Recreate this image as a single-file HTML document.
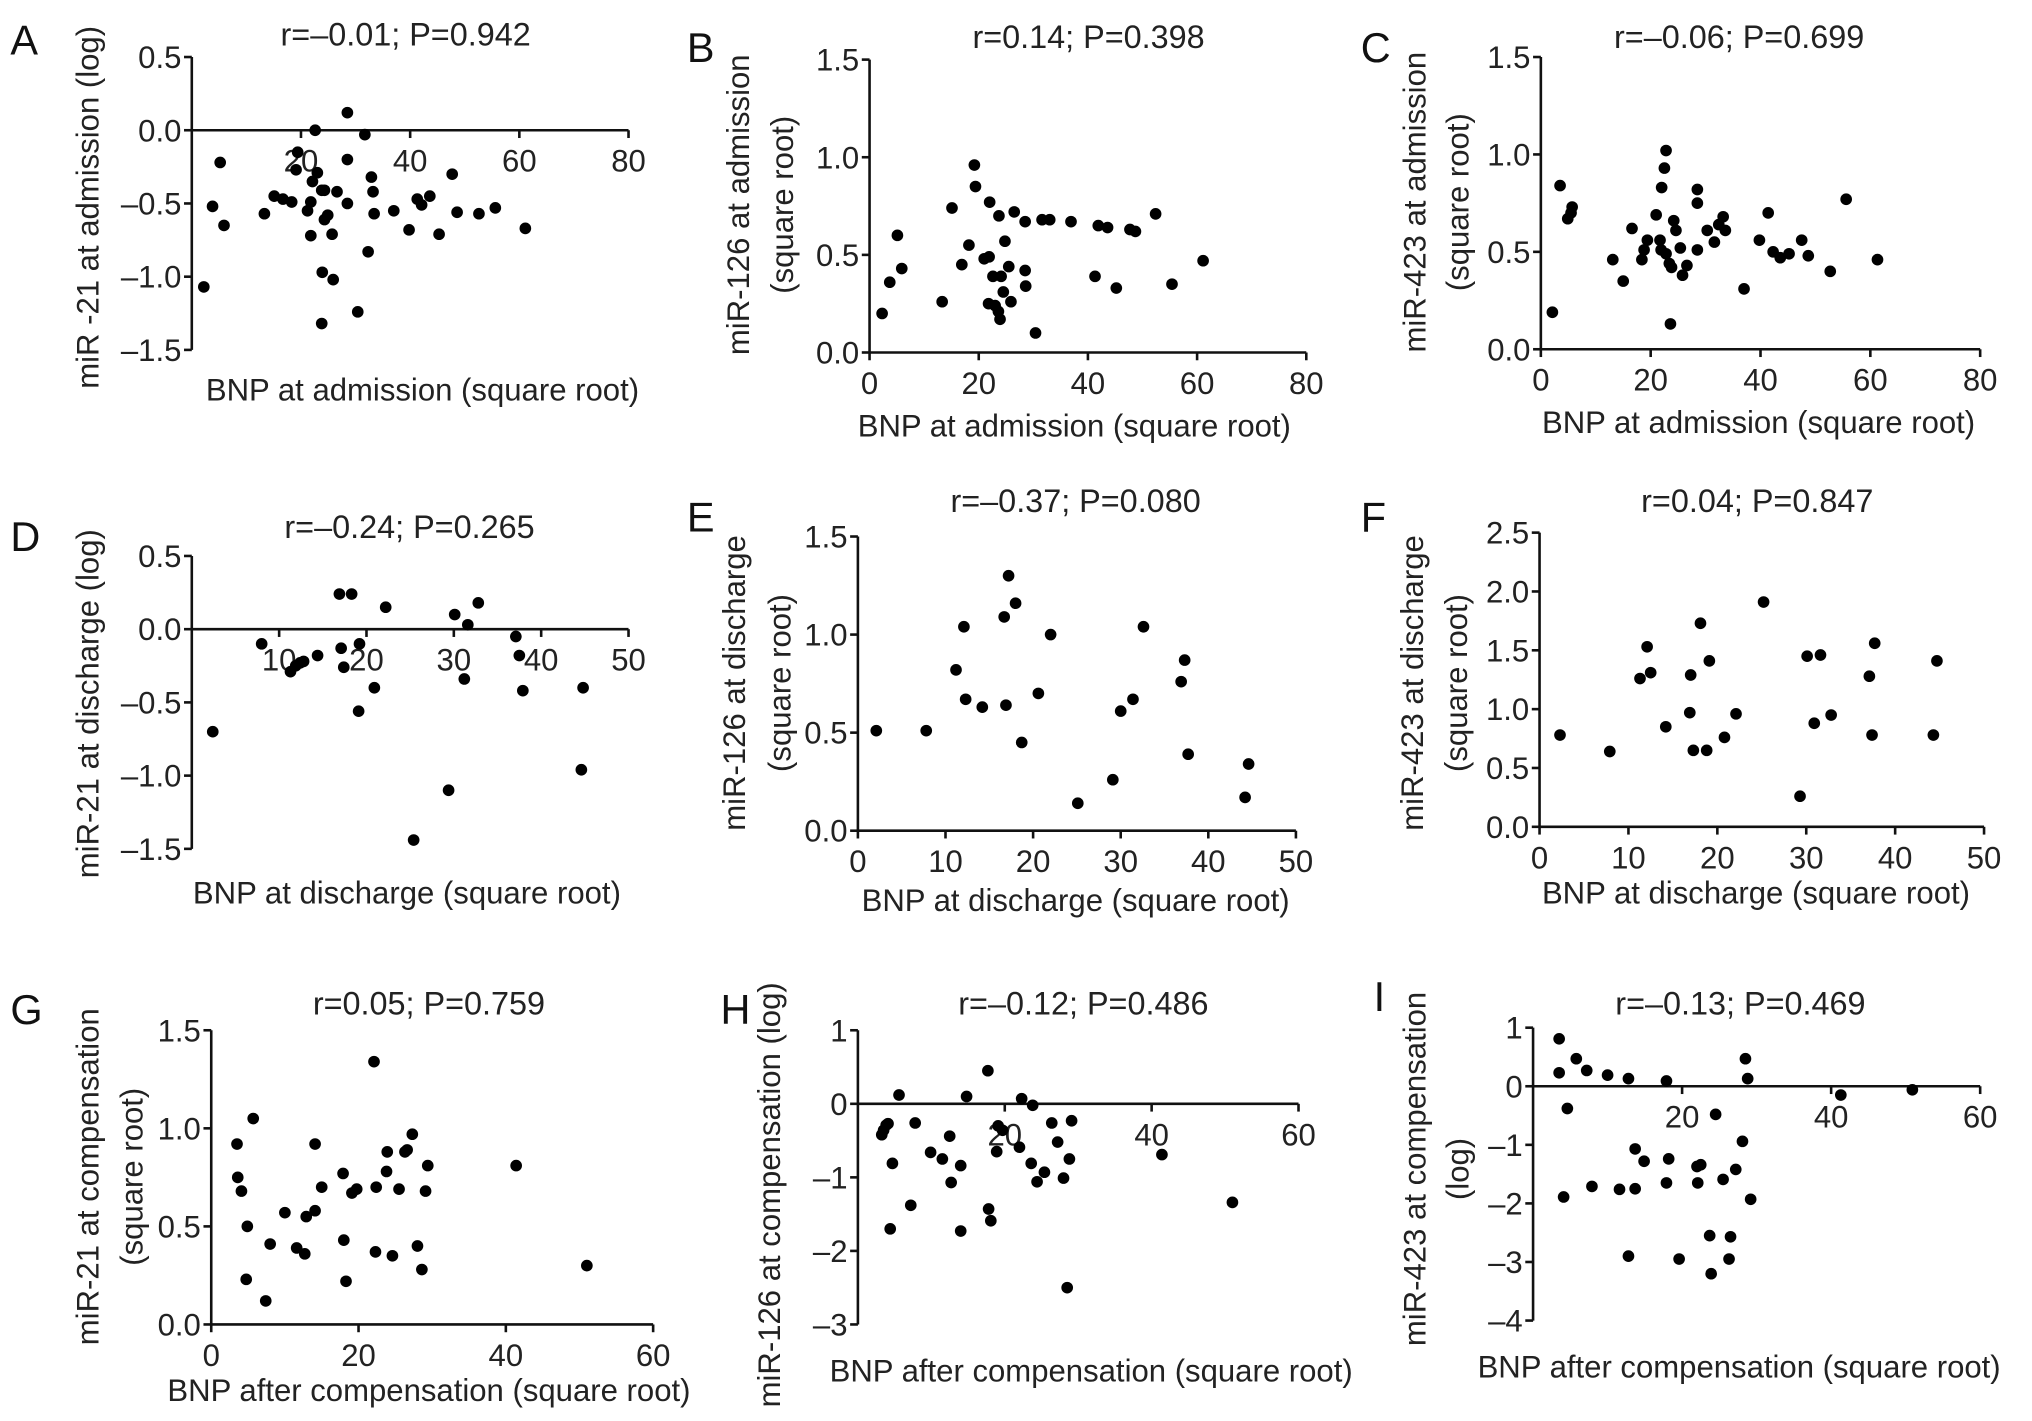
<!DOCTYPE html>
<html><head><meta charset="utf-8"><title>BNP vs miR correlations</title>
<style>
html,body{margin:0;padding:0;background:#fff;}
svg{display:block;font-family:"Liberation Sans",Arial,sans-serif;}
</style></head>
<body>
<svg id="fig" width="2032" height="1421" viewBox="0 0 1568 1096.5" preserveAspectRatio="none" xmlns="http://www.w3.org/2000/svg">
<rect width="1568" height="1096.5" fill="#fff"/>
</svg>
<script>
// ---- data (x = BNP sqrt, y = miR value) ----
const aX=[2.2,3.8,5.2,5.9,13.3,15.1,16.7,18.3,19.1,19.4,21.2,21.8,21.8,22.1,22.6,23,23.8,23.9,23.8,24.3,24.3,24.9,25.7,25.9,26.6,28.5,28.5,28.5,30.4,31.7,32.3,32.9,33.2,33.4,37,39.8,41.3,42.1,43.6,45.3,47.7,48.6,52.6,55.6,61.1];
const aY=[-1.07,-0.52,-0.22,-0.65,-0.57,-0.45,-0.47,-0.49,-0.27,-0.15,-0.55,-0.49,-0.72,-0.35,0,-0.29,-0.41,-0.97,-1.32,-0.41,-0.61,-0.58,-0.71,-1.02,-0.42,0.12,-0.2,-0.5,-1.24,-0.03,-0.83,-0.32,-0.42,-0.57,-0.55,-0.68,-0.47,-0.51,-0.45,-0.71,-0.3,-0.56,-0.57,-0.53,-0.67];
const bX=[2.3,3.7,5.1,5.9,13.3,15.1,16.9,18.2,19.2,19.4,21,21.9,22,21.8,22.6,23,23.6,23.7,23.9,24.1,24.5,24.8,25.5,25.9,26.5,28.5,28.5,28.6,30.4,31.6,33,36.9,41.3,41.9,43.6,45.2,47.7,48.7,52.4,55.4,61.1];
const bY=[0.20,0.36,0.60,0.43,0.26,0.74,0.45,0.55,0.96,0.85,0.48,0.49,0.77,0.25,0.39,0.24,0.21,0.70,0.17,0.39,0.31,0.57,0.44,0.26,0.72,0.67,0.42,0.34,0.10,0.68,0.68,0.67,0.39,0.65,0.64,0.33,0.63,0.62,0.71,0.35,0.47];
const cX=[2.1,3.5,4.9,5.7,5.5,13.1,15,16.6,18.4,18.8,19.4,21,21.7,22,21.9,22.5,22.8,22.8,23.6,23.4,23.8,24.2,24.6,25.4,25.8,26.6,28.5,28.5,28.5,30.3,31.6,32.4,33.2,33.6,37,39.8,41.4,42.3,43.6,45.2,47.5,48.7,52.7,55.6,61.3];
const cY=[0.19,0.84,0.67,0.73,0.70,0.46,0.35,0.62,0.46,0.51,0.56,0.69,0.56,0.83,0.51,0.93,1.02,0.49,0.13,0.44,0.42,0.66,0.61,0.52,0.38,0.43,0.51,0.82,0.75,0.61,0.55,0.64,0.68,0.61,0.31,0.56,0.70,0.50,0.47,0.49,0.56,0.48,0.40,0.77,0.46];
const dX=[2.4,8.0,11.3,11.9,12.4,12.8,14.4,16.9,17.1,17.4,18.3,19.1,19.2,20.9,22.2,25.4,29.4,30.1,31.2,31.6,32.8,37.1,37.5,37.9,44.6,44.8];
const dY=[-0.70,-0.10,-0.29,-0.25,-0.23,-0.22,-0.18,0.24,-0.13,-0.26,0.24,-0.56,-0.10,-0.40,0.15,-1.44,-1.10,0.10,-0.34,0.03,0.18,-0.05,-0.18,-0.42,-0.96,-0.40];
const eX=[2.1,7.8,11.2,12.1,12.3,14.2,16.7,16.9,17.2,18.0,18.7,20.6,22.0,25.1,29.1,30.0,31.4,32.6,36.9,37.3,37.7,44.2,44.6];
const eY=[0.51,0.51,0.82,1.04,0.67,0.63,1.09,0.64,1.30,1.16,0.45,0.70,1.00,0.14,0.26,0.61,0.67,1.04,0.76,0.87,0.39,0.17,0.34];
const fX=[2.3,7.9,11.3,12.1,12.5,14.2,16.9,17.0,17.3,18.1,18.8,19.1,20.8,22.1,25.2,29.3,30.1,30.9,31.6,32.8,37.1,37.4,37.7,44.3,44.7];
const fY=[0.78,0.64,1.26,1.53,1.31,0.85,0.97,1.29,0.65,1.73,0.65,1.41,0.76,0.96,1.91,0.26,1.45,0.88,1.46,0.95,1.28,0.78,1.56,0.78,1.41];
const gX=[3.5,3.6,4.1,4.75,4.9,5.7,7.4,8.0,10.0,11.6,12.7,12.9,14.1,14.1,15.0,17.9,18,18.3,19.1,19.75,22.1,22.4,22.3,23.8,23.9,24.6,25.5,26.3,26.6,27.3,28,28.6,29.1,29.4,41.4,51];
const gY=[0.92,0.75,0.68,0.23,0.50,1.05,0.12,0.41,0.57,0.39,0.36,0.55,0.92,0.58,0.70,0.77,0.43,0.22,0.67,0.69,1.34,0.70,0.37,0.78,0.88,0.35,0.69,0.88,0.89,0.97,0.40,0.28,0.68,0.81,0.81,0.30];
const hX=[3.25,3.5,3.85,4.1,4.4,4.7,5.6,7.2,7.8,9.9,11.5,12.5,12.7,14.0,14.0,14.8,17.7,17.8,18.1,19.1,18.9,19.7,22,22.3,23.6,23.8,24.4,25.4,26.4,27.2,28,28.5,28.8,29.1,41.4,51];
const hY=[-0.42,-0.36,-0.29,-0.27,-1.70,-0.81,0.12,-1.38,-0.26,-0.66,-0.75,-0.44,-1.07,-0.84,-1.73,0.10,0.45,-1.43,-1.59,-0.30,-0.65,-0.36,-0.59,0.07,-0.81,-0.02,-1.06,-0.93,-0.26,-0.52,-1.01,-2.50,-0.75,-0.23,-0.69,-1.34];
const iX=[3.5,3.5,4.1,4.6,5.8,7.2,7.9,10,11.6,12.8,12.8,13.7,13.7,14.9,17.9,17.9,18.2,19.6,22,22.5,22.1,23.7,23.9,24.5,25.5,26.5,26.3,27.2,28.1,28.5,28.8,29.2,41.3,50.9];
const iY=[0.81,0.23,-1.89,-0.38,0.47,0.27,-1.71,0.19,-1.76,0.13,-2.90,-1.07,-1.75,-1.28,0.09,-1.65,-1.24,-2.95,-1.37,-1.34,-1.65,-2.55,-3.20,-0.48,-1.59,-2.57,-2.95,-1.42,-0.94,0.47,0.13,-1.93,-0.15,-0.06];
// tick labels
const xTicks80=[0,20,40,60,80];
const xTicks50=[0,10,20,30,40,50];
const xTicks60=[0,20,40,60];
const yTicksLogA=[0.5,0.0,-0.5,-1.0,-1.5];
const yTicks15=[0.0,0.5,1.0,1.5];
const yTicks25=[0.0,0.5,1.0,1.5,2.0,2.5];
const yTicksH=[1,0,-1,-2,-3];
const yTicksI=[1,0,-1,-2,-3,-4];
const titles=["r=–0.01; P=0.942","r=0.14; P=0.398","r=–0.06; P=0.699","r=–0.24; P=0.265","r=–0.37; P=0.080","r=0.04; P=0.847","r=0.05; P=0.759","r=–0.12; P=0.486","r=–0.13; P=0.469"];

// ---- layout ----
const panels=[
 {id:'a',L:'A',lx:8,ly:42,xs:aX,ys:aY,x0:148,x1:485,xmin:0,xmax:80,xt:xTicks80,y0:270,y1:44,ymin:-1.5,ymax:0.5,yt:yTicksLogA,dec:1,zero:true,tx:313,ty:35,yl:["miR -21 at admission (log)"],ylx:[76],yly:160,xl:"BNP at admission (square root)",xlx:326,xly:309},
 {id:'b',L:'B',lx:530,ly:48,xs:bX,ys:bY,x0:671,x1:1008,xmin:0,xmax:80,xt:xTicks80,y0:272,y1:46,ymin:0,ymax:1.5,yt:yTicks15,dec:1,zero:false,tx:840,ty:37,yl:["miR-126 at admission","(square root)"],ylx:[578,612],yly:158,xl:"BNP at admission (square root)",xlx:829,xly:337},
 {id:'c',L:'C',lx:1050,ly:48,xs:cX,ys:cY,x0:1189,x1:1528,xmin:0,xmax:80,xt:xTicks80,y0:269.5,y1:44,ymin:0,ymax:1.5,yt:yTicks15,dec:1,zero:false,tx:1342,ty:37,yl:["miR-423 at admission","(square root)"],ylx:[1100,1133],yly:156,xl:"BNP at admission (square root)",xlx:1357,xly:334},
 {id:'d',L:'D',lx:8,ly:425,xs:dX,ys:dY,x0:148,x1:485,xmin:0,xmax:50,xt:xTicks50,y0:655,y1:429,ymin:-1.5,ymax:0.5,yt:yTicksLogA,dec:1,zero:true,tx:316,ty:415,yl:["miR-21 at discharge (log)"],ylx:[76],yly:543,xl:"BNP at discharge (square root)",xlx:314,xly:697},
 {id:'e',L:'E',lx:530,ly:410,xs:eX,ys:eY,x0:662,x1:1000,xmin:0,xmax:50,xt:xTicks50,y0:641,y1:414,ymin:0,ymax:1.5,yt:yTicks15,dec:1,zero:false,tx:830,ty:395,yl:["miR-126 at discharge","(square root)"],ylx:[575,610],yly:527,xl:"BNP at discharge (square root)",xlx:830,xly:703},
 {id:'f',L:'F',lx:1050,ly:410,xs:fX,ys:fY,x0:1188,x1:1531,xmin:0,xmax:50,xt:xTicks50,y0:638,y1:411,ymin:0,ymax:2.5,yt:yTicks25,dec:1,zero:false,tx:1356,ty:395,yl:["miR-423 at discharge","(square root)"],ylx:[1098,1132],yly:527,xl:"BNP at discharge (square root)",xlx:1355,xly:697},
 {id:'g',L:'G',lx:8,ly:790,xs:gX,ys:gY,x0:163,x1:504,xmin:0,xmax:60,xt:xTicks60,y0:1022,y1:795,ymin:0,ymax:1.5,yt:yTicks15,dec:1,zero:false,tx:331,ty:783,yl:["miR-21 at compensation","(square root)"],ylx:[76,110],yly:908,xl:"BNP after compensation (square root)",xlx:331,xly:1081},
 {id:'h',L:'H',lx:556,ly:790,xs:hX,ys:hY,x0:662,x1:1002,xmin:0,xmax:60,xt:xTicks60,y0:1022,y1:795,ymin:-3,ymax:1,yt:yTicksH,dec:0,zero:true,tx:836,ty:783,yl:["miR-126 at compensation (log)"],ylx:[602],yly:922,xl:"BNP after compensation (square root)",xlx:842,xly:1066},
 {id:'i',L:'I',lx:1060,ly:780,xs:iX,ys:iY,x0:1183,x1:1528,xmin:0,xmax:60,xt:xTicks60,y0:1019,y1:793,ymin:-4,ymax:1,yt:yTicksI,dec:0,zero:true,tx:1343,ty:783,yl:["miR-423 at compensation","(log)"],ylx:[1100,1133],yly:902,xl:"BNP after compensation (square root)",xlx:1342,xly:1063}
];

const NS='http://www.w3.org/2000/svg';
const svg=document.getElementById('fig');
function mk(tag,attrs,parent){const e=document.createElementNS(NS,tag);for(const k in attrs)e.setAttribute(k,attrs[k]);parent.appendChild(e);return e;}
function fmt(v,dec){const s=Math.abs(v).toFixed(dec);return (v<0?'–':'')+s;}

panels.forEach((p,pi)=>{
  const g=mk('g',{},svg);
  
  
  const sx=v=>p.x0+(v-p.xmin)/(p.xmax-p.xmin)*(p.x1-p.x0);
  const sy=v=>p.y0+(v-p.ymin)/(p.ymax-p.ymin)*(p.y1-p.y0);
  const lt=mk('text',{x:p.lx,y:p.ly,'font-size':32,fill:'#111'},g);lt.textContent=p.L;
  
  
  const tt=mk('text',{x:p.tx,y:p.ty,'font-size':25,'text-anchor':'middle',fill:'#222'},g);tt.textContent=titles[pi];
  
  
  const ya=mk('line',{x1:p.x0,y1:p.y0,x2:p.x0,y2:p.y1,stroke:'#111','stroke-width':2},g);
  
  
  p.yt.forEach(v=>{
    const y=sy(v);
    mk('line',{x1:p.x0-6,y1:y,x2:p.x0,y2:y,stroke:'#111','stroke-width':2},g);
    const t=mk('text',{x:p.x0-8,y:y+8.5,'font-size':24,'text-anchor':'end',fill:'#222'},g);t.textContent=fmt(v,p.dec);
    
    
  });
  const axY=p.zero?sy(0):p.y0;
  const xa=mk('line',{x1:p.x0,y1:axY,x2:p.x1,y2:axY,stroke:'#111','stroke-width':2},g);
  
  
  p.xt.forEach(v=>{
    if(p.zero&&v===0)return;
    const x=sx(v);
    mk('line',{x1:x,y1:axY,x2:x,y2:axY+6,stroke:'#111','stroke-width':2},g);
    const t=mk('text',{x:x,y:axY+32,'font-size':24,'text-anchor':'middle',fill:'#222'},g);t.textContent=String(v);
    
    
  });
  p.yl.forEach((s,k)=>{
    const t=mk('text',{x:p.ylx[k],y:p.yly,'font-size':24,'text-anchor':'middle',fill:'#222',transform:'rotate(-90 '+p.ylx[k]+' '+p.yly+')'},g);t.textContent=s;
    
    
  });
  const xt=mk('text',{x:p.xlx,y:p.xly,'font-size':24,'text-anchor':'middle',fill:'#222'},g);xt.textContent=p.xl;
  
  
  p.xs.forEach((xv,k)=>{
    const c=mk('circle',{cx:sx(xv),cy:sy(p.ys[k]),r:4.5,fill:'#000'},g);
    
    
  });
});
</script>
</body></html>
